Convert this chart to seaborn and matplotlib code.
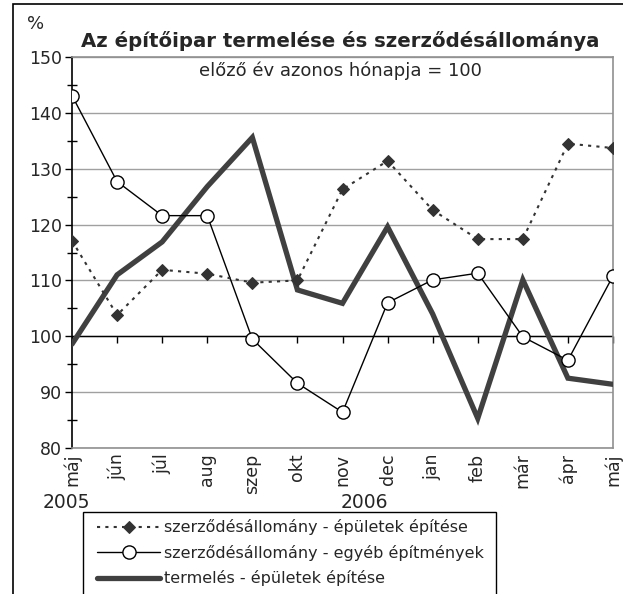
import numpy as np
import pandas as pd
import matplotlib
matplotlib.use("Agg")
import matplotlib.pyplot as plt
import matplotlib.patches as patches
import seaborn as sns

# ==========================================
# Data
# ==========================================
months = ["máj", "jún", "júl", "aug", "szep", "okt", "nov",
          "dec", "jan", "feb", "már", "ápr", "máj"]
epuletek_szerz = [117.1, 103.8, 111.9, 111.2, 109.6, 110.0, 126.3,
                  131.4, 122.6, 117.4, 117.4, 134.5, 133.7]
egyeb_szerz = [143.1, 127.7, 121.6, 121.6, 99.5, 91.6, 86.4,
               106.0, 110.1, 111.3, 99.9, 95.7, 110.8]
termeles = [98.6, 111.0, 116.9, 126.8, 135.6, 108.3, 105.9,
            119.6, 104.0, 85.3, 110.1, 92.5, 91.4]
labels = ["szerződésállomány - épületek építése",
          "szerződésállomány - egyéb építmények",
          "termelés - épületek építése"]
years = ["2005", "2006"]

df = pd.DataFrame({
    "pos": np.arange(len(months)),
    "epuletek": epuletek_szerz,
    "egyeb": egyeb_szerz,
    "termeles": termeles,
})

# ==========================================
# Style
# ==========================================
sns.set_style("white")
plt.rcParams["font.family"] = ["DejaVu Sans"]

W, H = 623, 594
fig = plt.figure(figsize=(W / 100, H / 100), dpi=100)
ax = fig.add_axes([72 / W, 1 - 448 / H, (613 - 72) / W, (448 - 57) / H])

# ==========================================
# Lines
# ==========================================
sns.lineplot(data=df, x="pos", y="termeles", ax=ax, color="#404040",
             linewidth=3.8, label=labels[2], zorder=3,
             solid_joinstyle="miter")
sns.lineplot(data=df, x="pos", y="egyeb", ax=ax, color="black",
             linewidth=1.0, marker="o", markersize=9.5,
             markerfacecolor="white", markeredgecolor="black",
             markeredgewidth=1.0, label=labels[1], zorder=4)
sns.lineplot(data=df, x="pos", y="epuletek", ax=ax, color="#333333",
             linewidth=1.5, linestyle=(0, (1.5, 2.5)), marker="D",
             markersize=6.0, markerfacecolor="#333333",
             markeredgecolor="#333333", label=labels[0], zorder=5,
             dash_capstyle="butt")

# ==========================================
# Axes
# ==========================================
ax.set_xlim(0, len(months) - 1)
ax.set_ylim(80, 150)
ax.set_yticks(np.arange(80, 151, 10))
ax.set_yticks(np.arange(85, 150, 10), minor=True)
ax.yaxis.grid(True, color="#a0a0a0", linewidth=1.0)
ax.set_axisbelow(True)
ax.axhline(100, color="black", linewidth=1.0, zorder=2)

ax.set_xticks(df["pos"])
ax.set_xticklabels(months, rotation=90, fontsize=12.5)
ax.tick_params(axis="x", length=0, pad=4)
ax.tick_params(axis="y", which="major", direction="out", length=5,
               width=1, color="black", labelsize=12.5, pad=2, left=True)
ax.tick_params(axis="y", which="minor", direction="inout", length=7,
               width=1, color="black", left=True)
ax.set_xlabel("")
ax.set_ylabel("")

for side in ["top", "right", "bottom"]:
    ax.spines[side].set_color("#909090")
    ax.spines[side].set_linewidth(1.2)
ax.spines["left"].set_color("black")
ax.spines["left"].set_linewidth(1.2)

# x tick marks hanging off the 100 line
sec = ax.secondary_xaxis((100 - 80) / 70)
sec.set_xticks(df["pos"])
sec.tick_params(axis="x", direction="out", length=5, width=1,
                color="black", labelbottom=False)
sec.spines["bottom"].set_visible(False)

# ==========================================
# Texts
# ==========================================
fig.text(36 / W, 1 - 24 / H, "%", fontsize=13, ha="center", va="center")
fig.text(340 / W, 1 - 41 / H, "Az építőipar termelése és szerződésállománya",
         fontsize=14.2, fontweight="bold", ha="center", va="center")
fig.text(340 / W, 1 - 71 / H, "előző év azonos hónapja = 100",
         fontsize=13, ha="center", va="center")
fig.text(66 / W, 1 - 503 / H, years[0], fontsize=13.5, ha="center", va="center")
fig.text(364 / W, 1 - 503 / H, years[1], fontsize=13.5, ha="center", va="center")

# Legend: frame drawn by hand so it runs off the bottom edge like the original
handles, lbls = ax.get_legend_handles_labels()
order = [lbls.index(l) for l in labels]
ax.get_legend().remove()
leg = fig.legend([handles[i] for i in order], [lbls[i] for i in order],
                 loc="upper left", bbox_to_anchor=(90 / W, 1 - 512 / H),
                 bbox_transform=fig.transFigure, borderaxespad=0,
                 fontsize=11.5, handlelength=3.95, handletextpad=0.25,
                 labelspacing=0.6, borderpad=0.45, frameon=False)
fig.patches.append(patches.Rectangle((83 / W, -0.1), (496 - 83) / W,
                                     0.1 + 1 - 512 / H,
                                     transform=fig.transFigure, fill=False,
                                     edgecolor="black", linewidth=1.0))

# outer frame (left and top edges visible)
fig.patches.append(patches.Rectangle((13 / W, -0.2), 1.2, 0.2 + 1 - 4 / H,
                                     transform=fig.transFigure, fill=False,
                                     edgecolor="black", linewidth=1.2))

fig.savefig("out.png", dpi=100)
